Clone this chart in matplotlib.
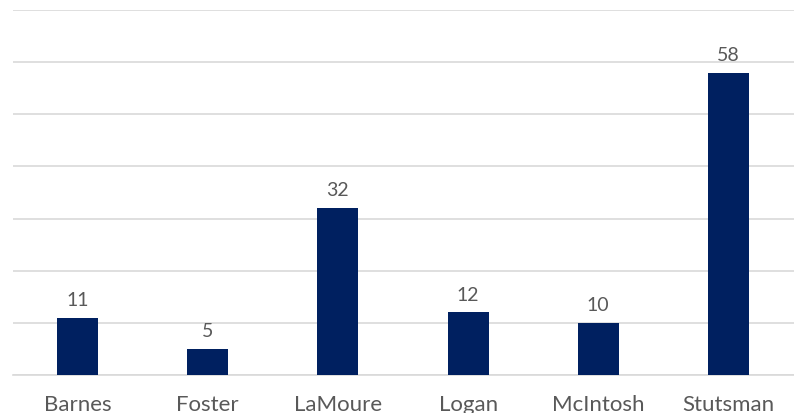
import matplotlib.pyplot as plt

counties = ['Barnes', 'Foster', 'LaMoure', 'Logan', 'McIntosh', 'Stutsman']
counts = [11, 5, 32, 12, 10, 58]

plt.rcParams['font.family'] = ['Lato', 'DejaVu Sans']

fig = plt.figure(figsize=(7.94, 4.14), dpi=100)
ax = fig.add_axes([12.5 / 794, 38 / 414, 781 / 794, 365 / 414])

xs = range(len(counties))
ax.bar(xs, counts, width=0.315, color='#002060', zorder=3)
for x, v in zip(xs, counts):
    ax.annotate(str(v), (x, v), xytext=(0, 7), textcoords='offset points',
                ha='center', va='bottom', fontsize=14, color='#595959')

ax.set_xlim(-0.5, len(counties) - 0.5)
ax.set_ylim(0, 70)
ax.set_yticks(range(0, 71, 10))
ax.yaxis.grid(True, color='#d9d9d9', linewidth=1.2, zorder=0)
ax.tick_params(axis='y', left=False, labelleft=False)
ax.set_xticks(list(xs))
ax.set_xticklabels(counties, fontsize=16, color='#595959')
ax.tick_params(axis='x', length=0, pad=13.5)
for s in ['top', 'right', 'left']:
    ax.spines[s].set_visible(False)
ax.spines['bottom'].set_color('#d9d9d9')
ax.spines['bottom'].set_linewidth(1.2)

fig.savefig('out.png', dpi=100)
